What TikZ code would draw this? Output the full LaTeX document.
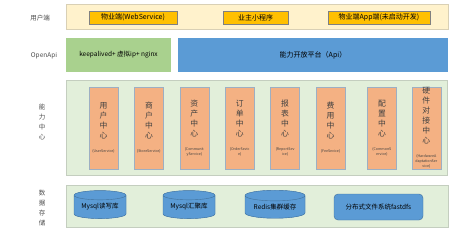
\documentclass[tikz,border=0pt]{standalone}
\usepackage{fontspec}
\setmainfont{Noto Sans CJK SC}
\usepackage{tikz}
\usetikzlibrary{positioning,shapes.geometric}
\definecolor{bandyellow}{HTML}{FFF2CC}
\definecolor{bandgreen}{HTML}{E2EFDA}
\definecolor{svcyellow}{HTML}{FFC000}
\definecolor{apigreen}{HTML}{A9D18E}
\definecolor{apiblue}{HTML}{5B9BD5}
\definecolor{huborange}{HTML}{F4B183}
\definecolor{hubedge}{HTML}{9DAFC3}
\definecolor{dbtop}{HTML}{7FB1E0}
\definecolor{dbedge}{HTML}{41719C}
\newcommand\engfont{\fontsize{3.6}{4.6}\selectfont}

\begin{document}
\begin{tikzpicture}[x=1pt,y=-1pt,
  band/.style={draw=#1!70!gray,fill=#1,minimum width=382pt,inner sep=0pt},
  svc/.style={draw=gray,fill=svcyellow,minimum height=13pt,inner sep=0pt,font=\fontsize{7}{8}\selectfont},
  lbl/.style={align=center,text=black!70,font=\fontsize{6.5}{10}\selectfont},
  hub/.style={draw=hubedge,fill=huborange,minimum width=29pt,minimum height=82pt,inner sep=0pt,align=center,text=black!75,font=\fontsize{7.8}{10}\selectfont},
  db/.style={cylinder,shape border rotate=90,aspect=0.25,draw=dbedge,fill=apiblue,cylinder uses custom fill,cylinder body fill=apiblue,cylinder end fill=dbtop,minimum height=28pt,inner sep=0pt,font=\fontsize{6.5}{8}\selectfont},
  node distance=16pt]
  \useasboundingbox (0,0) rectangle (470,230);
  \node[band=bandyellow,minimum height=25pt] (user) at (257,16.5) {};
  \node[svc,minimum width=88pt] (web) at (133,17.5) {物业端(WebService)};
  \node[svc,minimum width=65pt] (mini) at (255.5,17.5) {业主小程序};
  \node[svc,minimum width=102pt] (app) at (379,17.5) {物业端App端(未启动开发)};
  \node[fill=apigreen,minimum width=105pt,minimum height=34pt,inner sep=0pt,font=\fontsize{6.5}{8}\selectfont] (lb) at (118.5,55) {keepalived+ 虚拟ip+ nginx};
  \node[fill=apiblue,minimum width=270pt,minimum height=34pt,inner sep=0pt,font=\fontsize{7}{8}\selectfont] (api) at (313,55) {能力开放平台（Api）};
  \node[band=bandgreen,minimum width=381pt,minimum height=95pt] (center) at (256.5,127.5) {};
  \node[hub] (usr) at (103.5,128) {用\\户\\中\\心\\[4pt]{\engfont (UserService)}};
  \node[hub,right=of usr] (store) {商\\户\\中\\心\\[4pt]{\engfont (StoreService)}};
  \node[hub,right=of store] (asset) {资\\产\\中\\心\\[4pt]{\engfont (Communit}\\[-5pt]{\engfont yService)}};
  \node[hub,right=of asset] (order) {订\\单\\中\\心\\[4pt]{\engfont (OrderSevic}\\[-5pt]{\engfont e)}};
  \node[hub,right=of order] (report) {报\\表\\中\\心\\[4pt]{\engfont (ReportSev}\\[-5pt]{\engfont ice)}};
  \node[hub,right=of report] (fee) {费\\用\\中\\心\\[4pt]{\engfont (FeeSevice)}};
  \node[hub,right=22pt of fee] (conf) {配\\置\\中\\心\\[4pt]{\engfont (CommonS}\\[-5pt]{\engfont ervice)}};
  \node[hub,right=15pt of conf] (hw) {硬\\件\\对\\接\\中\\心\\[4pt]{\engfont (HardwareA}\\[-5pt]{\engfont daptationSer}\\[-5pt]{\engfont vice)}};
  \node[band=bandgreen,minimum height=42pt] (data) at (257,206) {};
  \node[db,minimum width=52pt] (rw) at (100,207) {Mysql读写库};
  \node[db,minimum width=52pt] (sum) at (189,207) {Mysql汇聚库};
  \node[db,minimum width=60pt] (redis) at (275,207) {Redis集群缓存};
  \node[draw=dbedge,fill=apiblue,rounded corners=4pt,minimum width=89pt,minimum height=26pt,font=\fontsize{6.5}{8}\selectfont] (dfs) at (378.5,207) {分布式文件系统fastdfs};
  \node[lbl] (l1) at (40,18) {用户端};
  \node[lbl] (l2) at (44,56) {OpenApi};
  \node[lbl] (l3) at (42,122) {能\\力\\中\\心};
  \node[lbl] (l4) at (42,208) {数\\据\\存\\储};
\end{tikzpicture}
\end{document}
